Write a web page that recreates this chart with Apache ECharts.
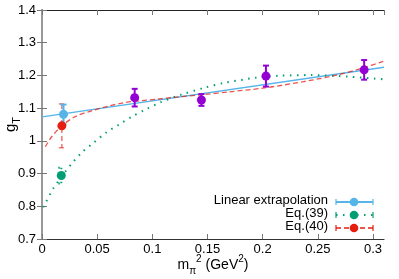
<!DOCTYPE html>
<html><head><meta charset="utf-8">
<script src="https://cdn.jsdelivr.net/npm/echarts@6/dist/echarts.min.js"></script>
<style>html,body{margin:0;padding:0;background:#fff}#c{width:399px;height:279px}</style>
</head><body><div id="c"></div>
<script>
// ---- data ----
const xRange = [0, 0.31];
const yRange = [0.7, 1.4];
const legendNames = ['Linear extrapolation', 'Eq.(39)', 'Eq.(40)'];
// [x, y, error]
const linearPoint = [[0.0195, 1.081, 0.03]];
const eq39Point = [[0.0175, 0.894, 0.024]];
const eq40Point = [[0.018, 1.046, 0.067]];
const latticePoints = [[0.084, 1.132, 0.027], [0.1445, 1.125, 0.018], [0.203, 1.198, 0.032], [0.292, 1.217, 0.03]];
// fitted curves
const linearCurve = [[0, 1.073], [0.31, 1.225]];
const eq39Curve = [[0.001, 0.797], [0.003, 0.809], [0.010, 0.853], [0.018, 0.892], [0.0266, 0.929], [0.036, 0.964],
  [0.047, 0.995], [0.058, 1.025], [0.070, 1.05], [0.082, 1.075], [0.094, 1.096], [0.107, 1.117], [0.126, 1.141],
  [0.147, 1.162], [0.165, 1.177], [0.194, 1.193], [0.2155, 1.199], [0.244, 1.201], [0.279, 1.196], [0.31, 1.188]];
const eq40Curve = [[0.003, 0.982], [0.0088, 1.0125], [0.018, 1.046], [0.030, 1.074], [0.045, 1.092], [0.060, 1.106],
  [0.075, 1.117], [0.090, 1.123], [0.1055, 1.128], [0.12, 1.133], [0.145, 1.141], [0.17, 1.150], [0.2, 1.161],
  [0.237, 1.181], [0.267, 1.201], [0.292, 1.224], [0.31, 1.244]];

const BLUE = '#56b4e9', GREEN = '#009e73', RED = '#e51e10', PURPLE = '#9400d3';
const FONT = 'Liberation Sans';

function errRender(style, hw) {
  return function (params, api) {
    const x = api.value(0), y = api.value(1), e = api.value(2);
    const t = api.coord([x, y + e]), b = api.coord([x, y - e]);
    return {
      type: 'group', children: [
        { type: 'line', shape: { x1: t[0], y1: t[1], x2: b[0], y2: b[1] }, style: style },
        { type: 'line', shape: { x1: t[0] - hw, y1: t[1], x2: t[0] + hw, y2: t[1] }, style: style },
        { type: 'line', shape: { x1: b[0] - hw, y1: b[1], x2: b[0] + hw, y2: b[1] }, style: style }
      ]
    };
  };
}

const chart = echarts.init(document.getElementById('c'), null, { renderer: 'canvas' });
const tickCommon = { show: true, inside: true, length: 5, lineStyle: { color: '#777', width: 1 } };
const option = {
  animation: false,
  grid: { left: 42, right: 15, top: 10, bottom: 40, containLabel: false, outerBoundsMode: 'none' },
  xAxis: [{
    type: 'value', min: xRange[0], max: xRange[1], interval: 0.05, position: 'bottom',
    axisLine: { show: true, lineStyle: { color: '#333', width: 1.2 } },
    axisTick: tickCommon, splitLine: { show: false },
    axisLabel: { showMaxLabel: false, color: '#000', fontFamily: FONT, fontSize: 13, margin: 4 },
    name: '{b|m}{s|π}{p|2}{b| (GeV}{p|2}{b|)}', nameLocation: 'middle', nameGap: 15, nameMoveOverlap: false,
    nameTextStyle: {
      rich: {
        b: { fontSize: 14, fontFamily: FONT, color: '#000', lineHeight: 22, verticalAlign: 'middle' },
        s: { fontSize: 10, fontFamily: FONT, color: '#000', lineHeight: 10, verticalAlign: 'bottom' },
        p: { fontSize: 10, fontFamily: FONT, color: '#000', lineHeight: 10, verticalAlign: 'top' }
      }
    }
  }, {
    type: 'value', min: xRange[0], max: xRange[1], interval: 0.05, position: 'top',
    axisLine: { show: true, lineStyle: { color: '#222', width: 1 } },
    axisTick: tickCommon, axisLabel: { show: false }, splitLine: { show: false }
  }],
  yAxis: [{
    type: 'value', min: yRange[0], max: yRange[1], interval: 0.1, position: 'left',
    axisLine: { show: true, lineStyle: { color: '#999', width: 2 } },
    axisTick: tickCommon, splitLine: { show: false },
    axisLabel: { color: '#000', fontFamily: FONT, fontSize: 13, margin: 6 },
    name: '{b|g}{s|T}', nameLocation: 'middle', nameGap: 20, nameRotate: 90, nameMoveOverlap: false,
    nameTextStyle: {
      rich: {
        b: { fontSize: 15, fontFamily: FONT, color: '#000', lineHeight: 22, verticalAlign: 'middle' },
        s: { fontSize: 11, fontFamily: FONT, color: '#000', lineHeight: 10, verticalAlign: 'bottom' }
      }
    }
  }, {
    type: 'value', min: yRange[0], max: yRange[1], interval: 0.1, position: 'right',
    axisLine: { show: true, lineStyle: { color: '#999', width: 2 } },
    axisTick: tickCommon, axisLabel: { show: false }, splitLine: { show: false }
  }],
  series: [
    { type: 'line', name: legendNames[0], data: linearCurve, showSymbol: false, lineStyle: { color: BLUE, width: 1.3 }, z: 2 },
    { type: 'line', name: legendNames[1], data: eq39Curve, showSymbol: false, smooth: 0.3, lineStyle: { color: GREEN, width: 2, type: [1.5, 5.5] }, z: 2 },
    { type: 'line', name: legendNames[2], data: eq40Curve, showSymbol: false, smooth: 0.3, lineStyle: { color: RED, width: 1.3, type: [5, 3], opacity: 0.75 }, z: 2 },
    { type: 'custom', data: eq40Point, renderItem: errRender({ stroke: RED, lineWidth: 1.5, lineDash: [5, 3], opacity: 0.6 }, 3), z: 3 },
    { type: 'custom', data: eq39Point, renderItem: errRender({ stroke: GREEN, lineWidth: 2, lineDash: [1.5, 5.5] }, 3), z: 3 },
    { type: 'custom', data: linearPoint, renderItem: errRender({ stroke: BLUE, lineWidth: 2 }, 3), z: 3 },
    { type: 'custom', data: latticePoints, renderItem: errRender({ stroke: PURPLE, lineWidth: 2 }, 3), z: 3 },
    { type: 'scatter', data: eq40Point, symbolSize: 9, itemStyle: { color: RED, opacity: 1 }, z: 4 },
    { type: 'scatter', data: eq39Point, symbolSize: 9, itemStyle: { color: GREEN, opacity: 1 }, z: 4 },
    { type: 'scatter', data: linearPoint, symbolSize: 9, itemStyle: { color: BLUE, opacity: 1 }, z: 4 },
    { type: 'scatter', data: latticePoints, symbolSize: 9, itemStyle: { color: PURPLE, opacity: 1 }, z: 4 }
  ],
  graphic: []
};

// legend (gnuplot style: text, then line + point + bar caps)
const legendRows = [
  { name: legendNames[0], color: BLUE, lw: 2, dash: null, y: 202 },
  { name: legendNames[1], color: GREEN, lw: 2, dash: [1.5, 5.5], y: 215 },
  { name: legendNames[2], color: RED, lw: 1.3, dash: [5, 3], y: 228 }
];
legendRows.forEach(function (r) {
  const st = { stroke: r.color, lineWidth: r.lw, lineDash: r.dash };
  option.graphic.push(
    { type: 'text', right: 399 - 328, top: r.y - 8, style: { text: r.name, font: '13px "Liberation Sans"', fill: '#000', textAlign: 'right' } },
    { type: 'line', shape: { x1: 336, y1: r.y, x2: 373, y2: r.y }, style: st },
    { type: 'line', shape: { x1: 336, y1: r.y - 3, x2: 336, y2: r.y + 3 }, style: { stroke: r.color, lineWidth: 1.2 } },
    { type: 'line', shape: { x1: 373, y1: r.y - 3, x2: 373, y2: r.y + 3 }, style: { stroke: r.color, lineWidth: 1.2 } },
    { type: 'circle', shape: { cx: 354, cy: r.y, r: 4.3 }, style: { fill: r.color } }
  );
});
chart.setOption(option);
</script></body></html>
